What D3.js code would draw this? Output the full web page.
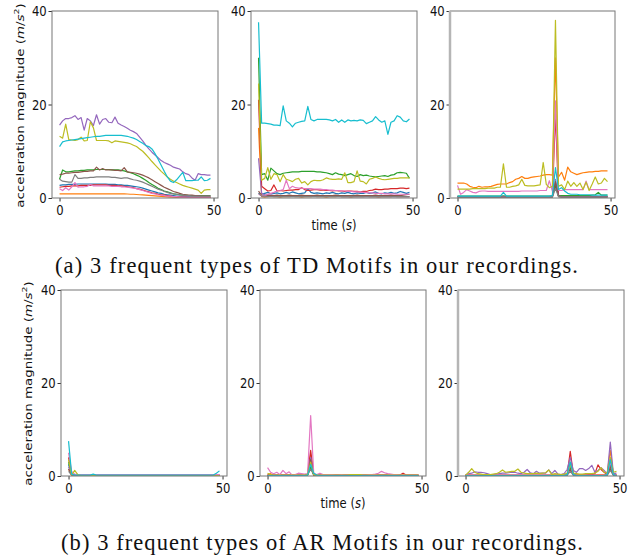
<!DOCTYPE html>
<html>
<head>
<meta charset="utf-8">
<script src="https://cdn.jsdelivr.net/npm/d3@7"></script>
<style>
  body { margin: 0; background: #fff; }
  text { font-family: "DejaVu Sans", sans-serif; }
</style>
</head>
<body>
<svg id="fig"></svg>
<script>
// sample index along each motif (0..49)
var time = d3.range(50);
var xTicks = [0, 50];
var yTicks = [0, 20, 40];
var colors = ["#1f77b4", "#ff7f0e", "#2ca02c", "#d62728", "#9467bd",
              "#8c564b", "#e377c2", "#7f7f7f", "#bcbd22", "#17becf"];
var captionTD = "(a) 3 frequent types of TD Motifs in our recordings.";
var captionAR = "(b) 3 frequent types of AR Motifs in our recordings.";

// TD motif 1 (one array per colour, tab10 order)
var td1 = [
  [2.7,2.8,2.8,2.9,2.9,2.9,3.0,3.0,3.0,3.0, 3.0,3.0,3.0,3.0,3.0,3.0,2.9,2.9,2.9,2.8, 2.8,2.7,2.7,2.6,2.5,2.4,2.3,2.1,1.9,1.7, 1.5,1.3,1.1,1.0,0.8,0.7,0.6,0.5,0.4,0.4, 0.3,0.3,0.3,0.2,0.2,0.2,0.2,0.2,0.2,0.2],
  [0.9,0.9,0.9,0.9,0.9,0.9,0.9,0.9,0.9,0.9, 0.9,0.9,0.9,0.9,0.9,0.9,0.9,0.9,0.9,0.9, 0.9,0.9,0.85,0.8,0.8,0.75,0.7,0.65,0.6,0.55, 0.5,0.45,0.4,0.35,0.3,0.25,0.2,0.2,0.15,0.15, 0.1,0.1,0.1,0.1,0.1,0.1,0.1,0.1,0.1,0.1],
  [4.0,6.0,5.6,5.6,5.7,5.8,5.8,5.9,5.9,6.0, 6.0,6.0,6.1,6.1,6.1,6.1,6.1,6.0,6.0,6.0, 5.9,5.8,5.6,5.4,5.2,4.9,4.6,4.2,3.8,3.3, 2.9,2.5,2.1,1.8,1.5,1.3,1.1,0.9,0.8,0.7, 0.6,0.6,0.5,0.5,0.5,0.5,0.5,0.5,0.5,0.5],
  [2.3,2.4,2.5,2.5,2.6,2.6,2.6,2.7,2.7,2.7, 2.7,2.8,2.8,2.8,2.8,2.8,2.7,2.7,2.7,2.6, 2.6,2.5,2.4,2.3,2.2,2.0,1.9,1.7,1.5,1.3, 1.1,1.0,0.8,0.7,0.6,0.5,0.4,0.3,0.3,0.2, 0.2,0.2,0.1,0.1,0.1,0.1,0.1,0.1,0.1,0.1],
  [15.6,16.5,17.0,17.0,17.2,17.6,16.8,17.2,14.5,17.0, 16.5,15.5,17.8,15.8,16.8,17.0,16.2,16.1,17.3,16.0, 15.6,15.3,14.9,14.5,14.2,13.8,13.0,12.2,11.3,10.5, 9.8,9.2,8.6,8.0,7.6,7.3,7.0,6.6,6.4,6.2, 5.6,5.2,5.0,4.3,3.8,5.2,5.0,5.0,4.9,4.9],
  [5.0,5.1,5.3,5.3,5.4,5.5,5.5,5.6,5.7,5.7, 5.8,5.8,6.6,6.0,6.3,6.0,6.0,6.0,5.9,5.9, 5.8,6.5,5.6,5.5,5.4,5.3,5.1,4.9,4.6,4.3, 3.9,3.5,3.1,2.7,2.3,2.0,1.7,1.4,1.2,1.0, 0.8,0.7,0.6,0.6,0.5,0.5,0.4,0.4,0.4,0.4],
  [2.0,1.6,2.2,1.7,2.4,3.3,2.3,2.4,2.4,2.5, 2.9,2.6,2.6,2.6,2.6,2.6,2.6,2.5,2.5,2.5, 2.4,2.4,2.3,2.2,2.1,2.0,1.8,1.6,1.4,1.2, 1.0,0.9,0.7,0.6,0.5,0.4,0.4,0.3,0.3,0.2, 0.2,0.2,0.2,0.2,0.2,0.2,0.2,0.2,0.2,0.2],
  [4.0,3.6,3.5,3.4,3.4,5.0,4.2,4.2,4.3,4.3, 4.4,4.4,4.5,4.5,4.5,4.5,4.5,4.4,4.4,4.3, 4.2,4.3,4.3,4.1,3.9,3.8,3.6,3.4,3.1,2.8, 2.5,2.2,1.9,1.7,1.4,1.2,1.0,0.9,0.8,0.7, 0.6,0.5,0.5,0.4,0.4,0.4,0.4,0.4,0.4,0.4],
  [13.2,12.8,15.8,12.5,12.4,12.3,12.5,13.0,12.2,12.3, 16.3,15.0,12.3,12.3,12.3,12.3,12.2,11.8,12.2,12.1, 12.0,11.9,11.8,11.6,11.3,11.0,10.5,10.0,9.3,8.6, 7.8,7.1,6.4,5.7,5.1,4.5,4.0,3.6,3.3,3.0, 2.7,2.5,2.3,2.1,1.9,1.7,1.0,1.7,1.8,1.8],
  [11.0,12.0,12.2,12.3,12.4,12.5,12.6,12.7,12.8,12.9, 13.0,13.1,13.2,13.2,13.3,13.4,13.4,13.4,13.4,13.4, 13.4,13.3,13.2,13.0,12.8,12.5,12.1,11.7,11.2,11.0, 10.5,9.5,8.3,7.0,5.7,4.5,3.6,3.3,3.9,4.7, 5.5,3.7,3.7,3.7,3.8,3.8,4.5,3.7,3.8,4.2]
];

// TD motif 2
var td2 = [
  [1.0,0.8,1.0,1.2,0.9,1.0,1.1,0.9,1.0,1.2, 1.0,1.3,1.1,0.9,1.0,1.1,2.0,1.2,1.0,1.1, 1.0,0.9,1.1,1.0,1.2,1.0,0.9,1.1,1.0,1.2, 1.0,0.9,1.1,1.0,1.0,1.2,1.0,1.1,1.3,1.0, 0.9,1.1,1.0,1.2,1.0,1.1,1.4,1.2,1.0,1.2],
  [15.0,0.3,0.2,0.3,0.4,0.3,0.3,0.2,0.3,0.3, 0.3,0.4,0.3,0.3,0.2,0.3,0.3,0.3,0.4,0.3, 0.3,0.3,0.2,0.3,0.3,0.3,0.4,0.3,0.3,0.3, 0.2,0.3,0.3,0.3,0.3,0.4,0.3,0.3,0.3,0.2, 0.3,0.3,0.3,0.3,0.4,0.3,0.3,0.3,0.3,0.3],
  [30.0,5.0,5.2,3.8,6.4,5.8,5.2,5.0,5.3,5.4, 5.5,5.6,5.6,5.6,5.7,5.7,5.7,5.7,5.7,5.6, 5.6,5.5,5.4,5.2,5.0,5.4,5.1,5.0,4.8,5.0, 5.2,4.8,4.6,5.0,4.8,4.9,4.7,4.6,4.5,4.6, 4.7,4.8,4.6,4.9,5.0,5.4,5.5,5.4,5.3,4.2],
  [21.0,2.5,2.0,1.5,1.6,2.8,1.5,1.6,1.5,1.6, 1.7,1.7,1.8,1.8,2.2,1.8,1.6,1.7,1.8,1.8, 1.7,1.7,1.6,1.6,1.5,1.6,1.5,1.5,1.4,1.5, 1.5,1.4,1.4,1.3,1.4,1.4,1.6,1.7,1.9,1.8, 1.8,1.9,1.9,2.0,2.0,2.0,2.1,2.1,2.0,2.1],
  [8.5,1.0,0.7,0.6,0.6,0.5,0.5,0.5,0.4,0.4, 0.4,0.4,0.4,0.4,0.4,0.4,0.4,0.4,0.4,0.4, 0.4,0.4,0.4,0.4,0.4,0.4,0.4,0.3,0.3,0.3, 0.3,0.3,0.3,0.3,0.3,0.3,0.3,0.3,0.3,0.3, 0.3,0.3,0.3,0.3,0.3,0.3,0.3,0.3,0.3,0.3],
  [1.5,0.5,0.5,0.6,0.5,0.5,0.6,0.5,0.5,0.5, 0.6,0.5,0.5,0.5,0.6,0.5,0.5,0.5,0.5,0.6, 0.5,0.5,0.5,0.5,0.5,0.6,0.5,0.5,0.5,0.5, 0.5,0.5,0.6,0.5,0.5,0.5,0.5,0.5,0.6,0.5, 0.5,0.5,0.5,0.6,0.5,0.5,0.5,0.6,0.7,0.8],
  [0.8,0.5,0.5,0.8,1.0,1.2,1.5,1.6,1.8,3.8, 2.0,2.5,2.2,2.1,2.1,2.0,2.0,2.0,1.9,1.9, 1.9,1.8,1.8,1.7,1.7,1.6,1.6,1.5,1.5,1.4, 1.4,1.3,1.3,1.3,1.2,1.2,1.1,1.1,1.0,1.0, 1.0,0.9,0.9,0.9,0.9,0.8,0.8,0.8,0.8,0.8],
  [1.0,0.4,0.4,0.3,0.3,0.3,0.3,0.3,0.3,0.3, 0.3,0.3,0.3,0.3,0.3,0.3,0.3,0.3,0.3,0.3, 0.3,0.3,0.3,0.3,0.3,0.3,0.3,0.3,0.3,0.3, 0.3,0.3,0.3,0.3,0.3,0.3,0.3,0.3,0.3,0.3, 0.3,0.3,0.3,0.3,0.3,0.3,0.3,0.3,0.3,0.3],
  [24.5,3.8,4.2,6.5,4.0,5.2,5.0,3.5,5.0,4.0, 3.8,3.5,4.0,4.2,3.2,3.5,2.8,3.5,3.8,3.7, 3.7,3.9,4.3,4.1,4.0,4.0,4.1,4.0,5.4,3.3, 3.3,3.5,5.8,3.6,3.5,3.0,4.0,4.2,4.5,4.2, 4.0,3.9,4.0,4.1,4.2,4.2,4.3,4.3,4.3,4.3],
  [37.6,16.0,16.0,15.9,15.8,15.6,15.6,15.5,19.7,16.5, 16.0,15.2,16.0,16.2,16.4,16.5,19.6,16.8,16.5,16.8, 16.8,16.8,16.8,16.7,16.5,16.8,16.2,16.7,16.2,16.7, 16.5,16.6,16.5,16.7,16.6,15.9,16.2,16.5,17.4,16.7, 16.2,16.5,13.6,16.2,16.5,17.6,17.3,16.5,16.3,16.9]
];

// TD motif 3
var td3 = [
  [0.3,0.3,0.3,0.3,0.3,0.3,0.3,0.3,0.3,0.3, 0.3,0.3,0.3,0.3,0.3,0.4,0.3,0.3,0.3,0.3, 0.3,0.3,0.3,0.3,0.3,0.3,0.3,0.3,0.3,0.3, 0.3,0.4,3.0,0.4,0.3,0.3,0.3,0.3,0.3,0.3, 0.3,0.3,0.3,0.3,0.3,0.4,0.3,0.3,0.3,0.3],
  [3.2,3.2,3.2,3.0,2.5,2.3,2.2,2.5,2.3,2.4, 2.4,2.5,2.7,2.9,3.0,3.0,3.0,3.3,3.5,4.0, 4.2,4.6,4.2,4.2,4.4,4.5,4.6,4.7,4.9,5.0, 5.0,4.9,30.0,4.5,5.5,3.8,6.6,5.6,5.3,5.0, 5.2,5.4,5.5,5.6,5.6,5.7,5.7,5.8,5.8,5.8],
  [0.4,0.4,0.4,0.4,0.4,0.4,0.4,0.4,0.4,0.4, 0.4,0.4,0.4,0.4,0.4,0.4,0.4,0.4,0.4,0.4, 0.4,0.4,0.4,0.4,0.4,0.4,0.4,0.4,0.4,0.4, 0.4,0.4,2.5,0.5,0.5,0.5,0.5,0.5,0.5,0.5, 0.5,0.5,0.5,0.5,0.6,0.7,1.2,0.6,0.6,0.6],
  [0.3,0.3,0.3,0.3,0.3,0.3,0.3,0.3,0.3,0.3, 0.3,0.3,0.3,0.3,0.3,0.3,0.3,0.3,0.3,0.3, 0.3,0.3,0.3,0.3,0.3,0.3,0.3,0.3,0.3,0.3, 0.3,0.3,18.0,0.4,0.3,0.3,0.3,0.3,0.3,0.3, 0.3,0.3,0.3,0.3,0.3,0.3,0.3,0.3,0.3,0.3],
  [0.3,0.3,0.3,0.3,0.3,0.3,0.3,0.3,0.3,0.3, 0.3,0.3,0.3,0.3,0.3,0.3,0.3,0.3,0.3,0.3, 0.3,0.3,0.3,0.3,0.3,0.3,0.3,0.3,0.3,0.3, 0.3,0.3,4.0,0.4,0.3,0.3,0.3,0.3,0.3,0.3, 0.3,0.3,0.3,0.3,0.3,0.3,0.3,0.3,0.3,0.3],
  [0.2,0.2,0.2,0.2,0.2,0.2,0.2,0.2,0.2,0.2, 0.2,0.2,0.2,0.2,0.2,0.2,0.2,0.2,0.2,0.2, 0.2,0.2,0.2,0.2,0.2,0.2,0.2,0.2,0.2,0.2, 0.2,0.2,3.5,0.3,0.2,0.2,0.2,0.2,0.2,0.2, 0.2,0.2,0.2,0.2,0.2,0.2,0.2,0.2,0.2,0.2],
  [2.7,0.8,1.2,1.8,1.5,1.2,1.1,1.4,1.5,1.5, 1.4,1.4,1.4,1.4,1.4,1.4,1.4,1.4,1.4,1.4, 1.4,1.5,1.5,1.5,1.5,1.5,1.5,1.6,1.6,1.6, 3.7,1.4,20.8,1.6,1.6,1.8,1.8,1.8,1.8,1.8, 1.8,1.8,3.6,1.8,1.8,1.8,1.8,1.8,1.8,1.8],
  [0.2,0.2,0.2,0.2,0.2,0.2,0.2,0.2,0.2,0.2, 0.2,0.2,0.2,0.2,0.2,0.2,0.2,0.2,0.2,0.2, 0.2,0.2,0.2,0.2,0.2,0.2,0.2,0.2,0.2,0.2, 0.2,0.2,2.0,0.3,0.2,0.2,0.2,0.2,0.2,0.2, 0.2,0.2,0.2,0.2,0.2,0.2,0.2,0.2,0.2,0.2],
  [1.9,1.9,1.9,1.9,1.9,2.0,2.0,2.0,2.0,2.0, 2.1,2.1,2.1,2.3,2.3,7.3,2.3,2.3,2.5,2.6, 2.8,4.0,2.7,2.6,2.6,2.6,2.7,2.8,7.6,2.9, 2.2,2.5,38.0,2.5,2.8,1.8,3.6,2.5,3.3,2.5, 3.2,1.8,3.4,1.6,3.0,4.5,3.0,3.2,4.2,3.5],
  [0.4,0.4,0.4,0.4,0.4,0.4,0.4,0.4,0.4,0.4, 0.4,0.4,0.4,0.4,0.4,1.2,0.4,0.4,0.4,0.4, 0.4,0.4,0.4,0.4,0.4,0.4,0.4,0.4,0.4,0.4, 0.4,0.5,6.5,1.8,2.2,1.5,1.0,0.8,0.8,0.8, 0.7,0.7,0.7,0.7,0.6,0.6,0.6,0.6,0.6,0.6]
];

// AR motif 1
var ar1 = [
  [2.5,0.3,0.2,0.2,0.2,0.2,0.2,0.2,0.2,0.2, 0.2,0.2,0.2,0.2,0.2,0.2,0.2,0.2,0.2,0.2, 0.2,0.2,0.2,0.2,0.2,0.2,0.2,0.2,0.2,0.2, 0.2,0.2,0.2,0.2,0.2,0.2,0.2,0.2,0.2,0.2, 0.2,0.2,0.2,0.2,0.2,0.2,0.2,0.2,0.2,0.2],
  [1.5,0.2,0.1,0.1,0.1,0.1,0.1,0.1,0.1,0.1, 0.1,0.1,0.1,0.1,0.1,0.1,0.1,0.1,0.1,0.1, 0.1,0.1,0.1,0.1,0.1,0.1,0.1,0.1,0.1,0.1, 0.1,0.1,0.1,0.1,0.1,0.1,0.1,0.1,0.1,0.1, 0.1,0.1,0.1,0.1,0.1,0.1,0.1,0.1,0.1,0.1],
  [3.0,0.3,0.1,0.1,0.1,0.1,0.1,0.1,0.1,0.1, 0.1,0.1,0.1,0.1,0.1,0.1,0.1,0.1,0.1,0.1, 0.1,0.1,0.1,0.1,0.1,0.1,0.1,0.1,0.1,0.1, 0.1,0.1,0.1,0.1,0.1,0.1,0.1,0.1,0.1,0.1, 0.1,0.1,0.1,0.1,0.1,0.1,0.1,0.1,0.1,0.1],
  [4.0,0.4,0.2,0.2,0.2,0.2,0.2,0.2,0.2,0.2, 0.2,0.2,0.2,0.2,0.2,0.2,0.2,0.2,0.2,0.2, 0.2,0.2,0.2,0.2,0.2,0.2,0.2,0.2,0.2,0.2, 0.2,0.2,0.2,0.2,0.2,0.2,0.2,0.2,0.2,0.2, 0.2,0.2,0.2,0.2,0.2,0.2,0.2,0.2,0.2,0.2],
  [2.0,0.3,0.2,0.2,0.2,0.2,0.2,0.2,0.2,0.2, 0.2,0.2,0.2,0.2,0.2,0.2,0.2,0.2,0.2,0.2, 0.2,0.2,0.2,0.2,0.2,0.2,0.2,0.2,0.2,0.2, 0.2,0.2,0.2,0.2,0.2,0.2,0.2,0.2,0.2,0.2, 0.2,0.2,0.2,0.2,0.2,0.2,0.2,0.2,0.2,0.2],
  [1.5,0.2,0.1,0.1,0.1,0.1,0.1,0.1,0.1,0.1, 0.1,0.1,0.1,0.1,0.1,0.1,0.1,0.1,0.1,0.1, 0.1,0.1,0.1,0.1,0.1,0.1,0.1,0.1,0.1,0.1, 0.1,0.1,0.1,0.1,0.1,0.1,0.1,0.1,0.1,0.1, 0.1,0.1,0.1,0.1,0.1,0.1,0.1,0.1,0.1,0.1],
  [5.0,1.0,0.4,0.3,0.3,0.3,0.3,0.3,0.3,0.3, 0.3,0.3,0.3,0.3,0.3,0.3,0.3,0.3,0.3,0.3, 0.3,0.3,0.3,0.3,0.3,0.3,0.3,0.3,0.3,0.3, 0.3,0.3,0.3,0.3,0.3,0.3,0.3,0.3,0.3,0.3, 0.3,0.3,0.3,0.3,0.3,0.3,0.3,0.3,0.3,0.3],
  [1.0,0.2,0.1,0.1,0.1,0.1,0.1,0.1,0.1,0.1, 0.1,0.1,0.1,0.1,0.1,0.1,0.1,0.1,0.1,0.1, 0.1,0.1,0.1,0.1,0.1,0.1,0.1,0.1,0.1,0.1, 0.1,0.1,0.1,0.1,0.1,0.1,0.1,0.1,0.1,0.1, 0.1,0.1,0.1,0.1,0.1,0.1,0.1,0.1,0.1,0.1],
  [3.5,0.2,1.2,0.3,0.1,0.1,0.1,0.1,0.1,0.1, 0.1,0.1,0.1,0.1,0.1,0.1,0.1,0.1,0.1,0.1, 0.1,0.1,0.1,0.1,0.1,0.1,0.1,0.1,0.1,0.1, 0.1,0.1,0.1,0.1,0.1,0.1,0.1,0.1,0.1,0.1, 0.1,0.1,0.1,0.1,0.1,0.1,0.1,0.1,0.1,0.1],
  [7.5,0.4,0.2,0.2,0.2,0.2,0.2,0.2,0.4,0.2, 0.2,0.2,0.2,0.2,0.2,0.2,0.2,0.2,0.2,0.2, 0.2,0.2,0.2,0.2,0.2,0.2,0.2,0.2,0.2,0.2, 0.2,0.2,0.2,0.2,0.2,0.2,0.2,0.2,0.2,0.2, 0.2,0.2,0.2,0.2,0.2,0.2,0.2,0.2,0.6,1.1]
];

// AR motif 2
var ar2 = [
  [0.1,0.1,0.1,0.1,0.1,0.1,0.1,0.1,0.1,0.1, 0.1,0.1,0.1,0.2,2.0,0.2,0.1,0.1,0.1,0.1, 0.1,0.1,0.1,0.1,0.1,0.1,0.1,0.1,0.1,0.1, 0.1,0.1,0.1,0.1,0.1,0.1,0.1,0.1,0.1,0.1, 0.1,0.1,0.1,0.1,0.1,0.1,0.1,0.1,0.1,0.1],
  [0.3,0.5,0.2,0.2,0.2,0.2,0.2,0.2,0.2,0.2, 0.2,0.2,0.2,0.3,4.5,0.3,0.2,0.2,0.2,0.2, 0.2,0.2,0.2,0.2,0.2,0.2,0.2,0.2,0.2,0.2, 0.2,0.2,0.2,0.2,0.2,0.2,0.2,0.2,0.2,0.2, 0.2,0.2,0.2,0.2,0.2,0.2,0.2,0.2,0.2,0.2],
  [0.1,0.1,0.1,0.1,0.1,0.1,0.1,0.1,0.1,0.1, 0.1,0.1,0.1,0.2,2.0,0.2,0.1,0.1,0.1,0.1, 0.1,0.1,0.1,0.1,0.1,0.1,0.1,0.1,0.1,0.1, 0.1,0.1,0.1,0.1,0.1,0.1,0.1,0.1,0.1,0.1, 0.1,0.1,0.1,0.1,0.1,0.1,0.1,0.1,0.1,0.1],
  [0.2,0.2,0.2,0.2,0.2,0.2,0.2,0.2,0.2,0.2, 0.2,0.2,0.2,0.3,5.5,0.3,0.2,0.2,0.2,0.2, 0.2,0.2,0.2,0.2,0.2,0.2,0.2,0.2,0.2,0.2, 0.2,0.2,0.2,0.2,0.2,0.2,0.2,0.2,0.2,0.2, 0.2,0.2,0.2,0.2,0.6,0.2,0.2,0.2,0.2,0.2],
  [0.2,0.2,0.2,0.2,0.2,0.2,0.2,0.2,0.2,0.2, 0.2,0.2,0.2,0.3,4.0,0.3,0.2,0.2,0.2,0.2, 0.2,0.2,0.2,0.2,0.2,0.2,0.2,0.2,0.2,0.2, 0.2,0.2,0.2,0.2,0.2,0.2,0.2,0.2,0.2,0.2, 0.2,0.2,0.2,0.2,0.2,0.2,0.2,0.2,0.2,0.2],
  [0.1,0.1,0.1,0.1,0.1,0.1,0.1,0.1,0.1,0.1, 0.1,0.1,0.1,0.2,3.5,0.2,0.1,0.1,0.1,0.1, 0.1,0.1,0.1,0.1,0.1,0.1,0.1,0.1,0.1,0.1, 0.1,0.1,0.1,0.1,0.1,0.1,0.1,0.1,0.1,0.1, 0.1,0.1,0.1,0.1,0.1,0.1,0.1,0.1,0.1,0.1],
  [1.8,0.8,0.5,0.8,0.3,1.2,0.5,0.9,0.2,0.3, 0.6,0.5,0.4,0.5,13.0,0.5,0.3,0.6,0.3,0.3, 0.3,0.3,0.2,0.2,0.3,0.2,0.2,0.2,0.2,0.3, 0.3,0.2,0.2,0.3,0.3,0.4,0.6,1.0,0.7,0.5, 0.4,0.3,0.3,0.2,0.2,0.2,0.2,0.2,0.2,0.2],
  [0.1,0.1,0.1,0.1,0.1,0.1,0.1,0.1,0.1,0.1, 0.1,0.1,0.1,0.2,1.5,0.2,0.1,0.1,0.1,0.1, 0.1,0.1,0.1,0.1,0.1,0.1,0.1,0.1,0.1,0.1, 0.1,0.1,0.1,0.1,0.1,0.1,0.1,0.1,0.1,0.1, 0.1,0.1,0.1,0.1,0.1,0.1,0.1,0.1,0.1,0.1],
  [0.6,0.3,0.2,0.2,0.2,0.2,0.2,0.2,0.2,0.2, 0.2,0.2,0.2,0.3,3.0,0.3,0.2,0.2,0.2,0.2, 0.2,0.2,0.2,0.2,0.2,0.2,0.2,0.3,0.3,0.3, 0.3,0.2,0.2,0.2,0.2,0.2,0.2,0.2,0.2,0.2, 0.2,0.2,0.2,0.2,0.2,0.2,0.2,0.2,0.2,0.2],
  [0.1,0.1,0.1,0.1,0.1,0.1,0.1,0.1,0.1,0.1, 0.1,0.1,0.1,0.2,2.5,0.6,0.2,0.1,0.1,0.1, 0.1,0.1,0.1,0.1,0.1,0.1,0.1,0.1,0.1,0.1, 0.1,0.1,0.1,0.1,0.1,0.1,0.1,0.1,0.1,0.1, 0.1,0.1,0.1,0.1,0.1,0.1,0.1,0.1,0.1,0.1]
];

// AR motif 3
var ar3 = [
  [0.2,0.2,0.2,0.2,0.2,0.2,0.2,0.2,0.2,0.2, 0.2,0.2,0.2,0.2,0.2,0.2,0.2,0.2,0.2,0.2, 0.2,0.2,0.2,0.2,0.2,0.2,0.2,0.2,0.2,0.2, 0.2,0.2,0.2,0.3,2.0,0.3,0.2,0.2,0.2,0.2, 0.2,0.2,0.2,0.2,0.2,0.2,0.4,2.5,0.3,0.2],
  [0.2,0.3,0.2,0.2,0.2,0.2,0.2,0.2,0.2,0.2, 0.2,0.2,0.2,0.2,0.2,0.2,0.2,0.2,0.2,0.2, 0.2,0.2,0.2,0.2,0.2,0.2,0.2,0.2,0.2,0.2, 0.2,0.2,0.2,0.3,3.0,0.3,0.2,0.2,0.2,0.2, 0.2,0.2,0.2,0.3,0.3,0.3,0.6,5.5,0.4,0.3],
  [0.1,0.1,0.1,0.1,0.1,0.1,0.1,0.1,0.1,0.1, 0.1,0.1,0.1,0.1,0.1,0.1,0.1,0.1,0.1,0.1, 0.1,0.1,0.1,0.1,0.1,0.1,0.1,0.1,0.1,0.1, 0.1,0.1,0.1,0.2,2.0,0.2,0.1,0.1,0.1,0.1, 0.1,0.1,0.1,0.1,0.1,0.1,0.2,1.5,0.2,0.1],
  [0.1,0.1,0.1,0.1,0.1,0.1,0.1,0.1,0.1,0.1, 0.1,0.1,0.1,0.1,0.1,0.1,0.1,0.1,0.1,0.1, 0.1,0.1,0.1,0.1,0.1,0.1,0.1,0.1,0.1,0.1, 0.1,0.1,0.2,0.3,5.3,0.4,0.2,0.2,0.2,0.2, 0.3,0.3,0.5,2.4,1.4,0.8,0.4,3.0,0.3,0.2],
  [0.2,0.5,0.6,0.9,0.8,0.8,0.7,0.5,0.3,0.3, 0.4,0.5,0.6,0.6,0.7,0.8,0.8,0.6,0.5,0.8, 1.4,0.7,0.5,1.0,0.6,0.6,0.6,1.3,0.5,1.2, 0.4,0.3,0.5,1.4,4.0,1.2,0.8,1.6,1.6,1.2, 1.6,2.3,0.8,1.2,1.8,1.2,0.4,7.3,0.5,0.6],
  [0.1,0.1,0.1,0.1,0.1,0.1,0.1,0.1,0.1,0.1, 0.1,0.1,0.1,0.1,0.1,0.1,0.1,0.1,0.1,0.1, 0.1,0.1,0.1,0.1,0.1,0.1,0.1,0.1,0.1,0.1, 0.1,0.1,0.1,0.2,1.5,0.2,0.1,0.1,0.1,0.1, 0.1,0.1,0.1,0.1,0.1,0.1,0.2,2.0,0.2,0.1],
  [0.2,0.2,0.2,0.2,0.2,0.2,0.2,0.2,0.2,0.2, 0.2,0.2,0.2,0.2,0.2,0.2,0.2,0.2,0.2,0.2, 0.2,0.2,0.2,0.2,0.2,0.2,0.2,0.2,0.2,0.2, 0.2,0.2,0.2,0.3,2.5,0.3,0.2,0.2,0.2,0.2, 0.2,0.2,0.2,0.2,0.2,0.2,0.3,3.0,0.3,0.2],
  [0.1,0.1,0.1,0.1,0.1,0.1,0.1,0.1,0.1,0.1, 0.1,0.1,0.1,0.1,0.1,0.1,0.1,0.1,0.1,0.1, 0.1,0.1,0.1,0.1,0.1,0.1,0.1,0.1,0.1,0.1, 0.1,0.1,0.1,0.2,1.0,0.2,0.1,0.1,0.1,0.1, 0.1,0.1,0.1,0.1,0.1,0.1,0.2,1.2,0.2,0.1],
  [0.2,0.8,1.6,0.8,0.5,0.4,0.3,0.3,0.3,0.4, 0.5,0.8,1.3,0.8,0.9,1.0,1.0,1.5,0.8,0.6, 0.5,0.5,0.5,0.6,0.5,0.6,0.7,1.3,0.3,0.5, 0.4,0.3,0.4,0.6,2.5,0.6,0.5,0.4,0.4,0.5, 0.5,0.5,0.6,1.0,1.8,0.8,0.6,4.0,0.8,1.0],
  [0.1,0.1,0.1,0.1,0.1,0.1,0.1,0.1,0.1,0.1, 0.1,0.1,0.1,0.1,0.1,0.1,0.1,0.1,0.1,0.1, 0.1,0.1,0.1,0.1,0.1,0.1,0.1,0.1,0.1,0.1, 0.1,0.1,0.1,0.3,3.0,0.3,0.1,0.1,0.1,0.1, 0.1,0.1,0.1,0.1,0.1,0.1,0.3,3.5,0.3,0.1]
];

var width = 629, height = 556;
var squish = 0.8; // the figure text is narrow in the original
var svg = d3.select("#fig").attr("width", width).attr("height", height);

// panel boxes: [left, right, top, bottom]
var panels = [
  {data: td1, box: [52, 218, 11, 198], ylabel: [20, 105.5]},
  {data: td2, box: [251, 417, 11, 198], xlabel: true},
  {data: td3, box: [450, 615, 11, 198], wideSpine: true},
  {data: ar1, box: [61, 227, 290, 476], ylabel: [28, 383.5]},
  {data: ar2, box: [260, 426, 290, 476], xlabel: true},
  {data: ar3, box: [458, 624, 290, 476], wideSpine: true}
];

panels.forEach(function(p) {
  var b = p.box;
  // matplotlib style 5% margin on x
  var x = d3.scaleLinear().domain([-2.45, 51.45]).range([b[0], b[1]]);
  var y = d3.scaleLinear().domain([0, 40]).range([b[3], b[2]]);
  var g = svg.append("g");

  var line = d3.line()
    .x(function(d, i) { return x(time[i]); })
    .y(function(d) { return y(d); });

  var clipId = "clip" + b[0] + "_" + b[2];
  g.append("clipPath").attr("id", clipId)
    .append("rect").attr("x", b[0]).attr("y", b[2])
    .attr("width", b[1] - b[0]).attr("height", b[3] - b[2]);

  g.append("g").attr("clip-path", "url(#" + clipId + ")")
    .selectAll("path")
    .data(p.data)
    .enter().append("path")
    .attr("d", line)
    .attr("fill", "none")
    .attr("stroke", function(d, i) { return colors[i]; })
    .attr("stroke-width", 1.2)
    .attr("stroke-linejoin", "round");

  var xAxis = g.append("g").attr("transform", "translate(0," + b[3] + ")")
    .call(d3.axisBottom(x).tickValues(xTicks).tickSize(3.5).tickPadding(3));
  var yAxis = g.append("g").attr("transform", "translate(" + b[0] + ",0)")
    .call(d3.axisLeft(y).tickValues(yTicks).tickSize(3.5).tickPadding(3));
  [xAxis, yAxis].forEach(function(a) {
    a.select(".domain").remove();
    a.selectAll("line").attr("stroke", "#333");
    a.selectAll("text").attr("fill", "#111").style("font-size", "14.5px")
      .style("font-family", "'DejaVu Sans', sans-serif")
      .attr("transform", "scale(" + squish + ",1)");
  });
  yAxis.selectAll("text").attr("x", -6.6);

  // spines
  g.append("rect")
    .attr("x", b[0]).attr("y", b[2])
    .attr("width", b[1] - b[0]).attr("height", b[3] - b[2])
    .attr("fill", "none").attr("stroke", "#777").attr("stroke-width", 1);
  if (p.wideSpine) {
    g.append("line")
      .attr("x1", b[0]).attr("x2", b[0]).attr("y1", b[2]).attr("y2", b[3])
      .attr("stroke", "#b5b5b5").attr("stroke-width", 2.5);
  }

  if (p.ylabel) {
    var t = svg.append("text")
      .attr("transform", "translate(" + p.ylabel[0] + "," + p.ylabel[1] + ") scale(" + squish + ",1) rotate(-90)")
      .attr("text-anchor", "middle")
      .attr("dominant-baseline", "central")
      .style("font-size", "13.4px").attr("fill", "#111");
    t.append("tspan").text("acceleration magnitude (");
    t.append("tspan").style("font-style", "italic").text("m");
    t.append("tspan").text("/");
    t.append("tspan").style("font-style", "italic").text("s");
    t.append("tspan").attr("dy", -5).style("font-size", "9.5px").text("2");
    t.append("tspan").attr("dy", 5).text(")");
  }
  if (p.xlabel) {
    var xt = svg.append("text")
      .attr("transform", "translate(" + ((b[0] + b[1]) / 2) + "," + (b[3] + 32) + ") scale(" + squish + ",1)")
      .attr("text-anchor", "middle")
      .style("font-size", "14.5px").attr("fill", "#111");
    xt.append("tspan").text("time (");
    xt.append("tspan").style("font-style", "italic").text("s");
    xt.append("tspan").text(")");
  }
});

// captions: Times-like glyphs, spread to the caption's width
svg.append("text").attr("x", 55).attr("y", 273)
  .attr("textLength", 523).attr("lengthAdjust", "spacing")
  .style("font-family", "'Liberation Serif', 'Times New Roman', serif").style("font-size", "22.5px")
  .attr("fill", "#111").text(captionTD);
svg.append("text").attr("x", 61).attr("y", 550)
  .attr("textLength", 522).attr("lengthAdjust", "spacing")
  .style("font-family", "'Liberation Serif', 'Times New Roman', serif").style("font-size", "22.5px")
  .attr("fill", "#111").text(captionAR);
</script>
</body>
</html>
